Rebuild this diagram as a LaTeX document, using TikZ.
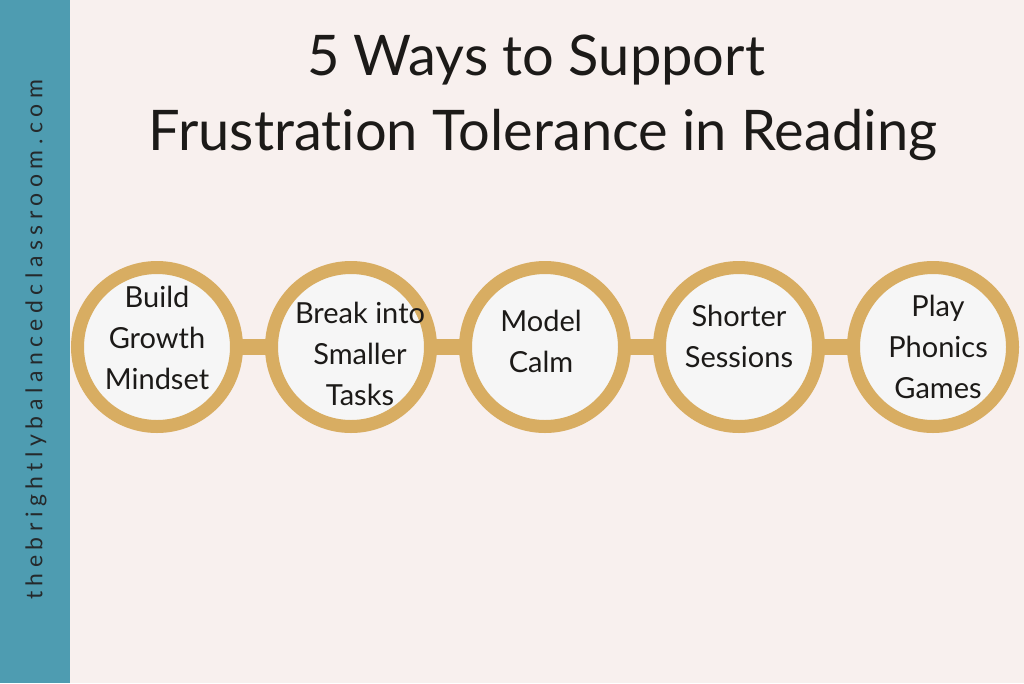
\documentclass[tikz,border=0pt]{standalone}
\usepackage{fontspec}
\setmainfont{Lato}[Ligatures=NoCommon]
\newfontfamily\sitefont[LetterSpace=24]{Lato}
\usetikzlibrary{positioning}
\definecolor{pagebg}{HTML}{F8F0EE}
\definecolor{sidebar}{HTML}{4E9CB1}
\definecolor{gold}{HTML}{D8AD62}
\definecolor{disc}{HTML}{F6F6F6}
\definecolor{ink}{HTML}{1C1A18}
\definecolor{siteink}{HTML}{25292B}
\tikzset{%
  ring/.style={circle,draw=gold,line width=13pt,fill=disc,minimum size=159pt,inner sep=0pt},
  word/.style={align=center,text=ink,font=\fontsize{29}{41}\selectfont},
  title/.style={text=ink,anchor=base,font=\fontsize{56}{60}\selectfont},
  link/.style={draw=gold,line width=16pt,shorten <=-2pt,shorten >=-2pt}
}
\begin{document}
\begin{tikzpicture}[x=1pt,y=-1pt]
	\fill[pagebg] (0,0) rectangle (1024,683);
	\fill[sidebar] (0,0) rectangle (70,683);
	\node[rotate=90,text=siteink,font=\sitefont\fontsize{23}{23}\selectfont] (site) at (36,340) {thebrightlybalancedclassroom.com};
	% title
	\node[title] (title-a) at (536,75) {5 Ways to Support};
	\node[title] (title-b) at (543,150) {Frustrat\kern0pt ion Tolerance in Reading};
	% the five rings
	\node[ring] (build) at (157,347) {};
	\node[ring,right=22pt of build] (breaktasks) {};
	\node[ring,right=22pt of breaktasks] (modelcalm) {};
	\node[ring,right=22pt of modelcalm] (shorter) {};
	\node[ring,right=22pt of shorter] (phonics) {};
	\draw[link] (build) -- (breaktasks);
	\draw[link] (breaktasks) -- (modelcalm);
	\draw[link] (modelcalm) -- (shorter);
	\draw[link] (shorter) -- (phonics);
	\node[word,yshift=9pt] (build-t) at (build) {Build\\Growth\\Mindset};
	\node[word,xshift=9pt,yshift=-7pt] (breaktasks-t) at (breaktasks) {Break into\\Smaller\\Tasks};
	\node[word,xshift=-4pt,yshift=6pt] (modelcalm-t) at (modelcalm) {Model\\Calm};
	\node[word,yshift=11pt] (shorter-t) at (shorter) {Shorter\\Sessions};
	\node[word,xshift=5pt] (phonics-t) at (phonics) {Play\\Phonics\\Games};
\end{tikzpicture}
\end{document}
